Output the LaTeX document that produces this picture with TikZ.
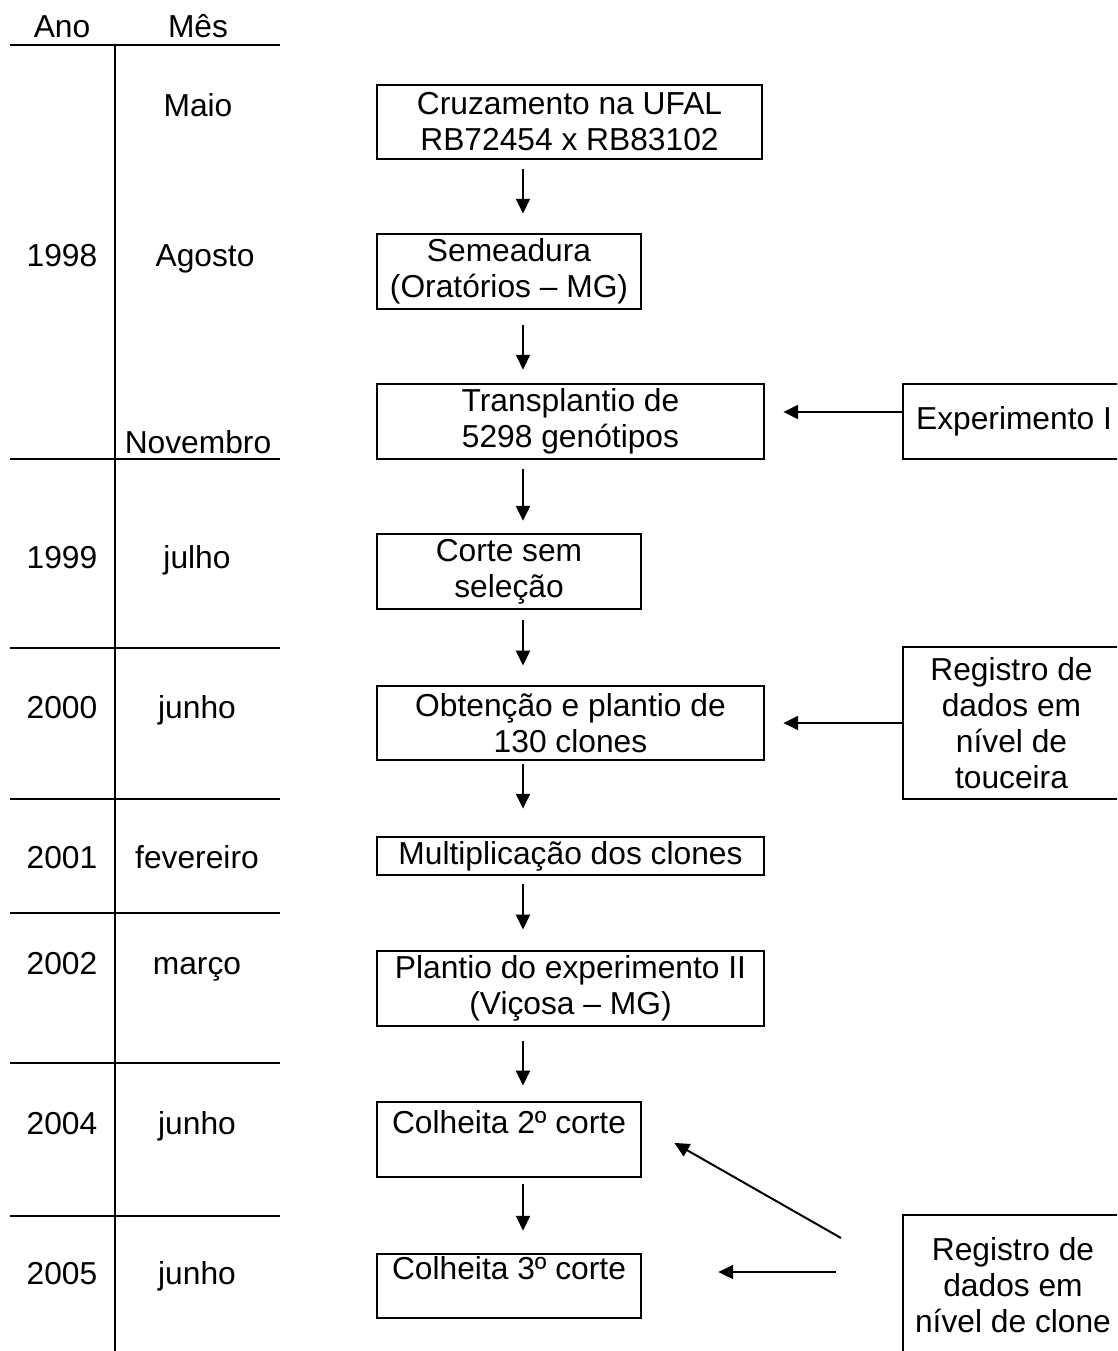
\documentclass[tikz,border=0pt]{standalone}
\usepackage{fontspec}
\setmainfont{Liberation Sans}
\usepackage{tikz}
\usetikzlibrary{arrows.meta,calc}

\begin{document}
\begin{tikzpicture}[
    x=0.378pt, y=-0.378pt,
    box/.style={rectangle, draw, line width=1.05pt, inner sep=0pt, align=center, font=\fontsize{12}{13.6}\selectfont},
    lbl/.style={inner sep=0pt, text height=8.6pt, text depth=0pt, font=\fontsize{12}{13.6}\selectfont},
    arrow/.style={-{Triangle[length=5.6pt,width=5.3pt]}, line width=0.75pt},
    rule/.style={line width=1.05pt}
]
\useasboundingbox (0,0) rectangle (1117,1351);
\clip (0,0) rectangle (1117,1351);

% Timeline header
\node[lbl] (ano) at (62,26) {Ano};
\node[lbl] (mes) at (198,26) {Mês};
\draw[rule] (10,45) -- (280,45);
\draw[rule] (115,45) -- (115,1360);

% Timeline rows
\foreach \yy in {459,648,799,913,1063,1216}
    \draw[rule] (10,\yy) -- (280,\yy);

\node[lbl] (m1) at (198,105) {Maio};
\node[lbl] (a1) at (62,255) {1998};
\node[lbl] (m2) at (205,255) {Agosto};
\node[lbl] (m3) at (198,442) {Novembro};
\node[lbl] (a2) at (62,557) {1999};
\node[lbl] (m4) at (197,557) {julho};
\node[lbl] (a3) at (62,707) {2000};
\node[lbl] (m5) at (197,707) {junho};
\node[lbl] (a4) at (62,857) {2001};
\node[lbl] (m6) at (197,857) {fevereiro};
\node[lbl] (a5) at (62,963) {2002};
\node[lbl] (m7) at (197,963) {março};
\node[lbl] (a6) at (62,1123) {2004};
\node[lbl] (m8) at (197,1123) {junho};
\node[lbl] (a7) at (62,1273) {2005};
\node[lbl] (m9) at (197,1273) {junho};

% Main steps
\node[box, minimum width=145.5pt, minimum height=28pt] (cruz) at (569.5,122) {Cruzamento na UFAL\\RB72454 x RB83102};
\node[box, minimum width=99.8pt, minimum height=28.35pt] (seme) at (509,271.5) {Semeadura\\(Oratórios – MG)};
\node[box, minimum width=146.3pt, minimum height=28.35pt] (trans) at (570.5,421.5) {Transplantio de\\5298 genótipos};
\node[box, minimum width=99.8pt, minimum height=28.35pt] (corte) at (509,571.5) {Corte sem\\seleção};
\node[box, minimum width=146.3pt, minimum height=28pt] (obt) at (570.5,723) {Obtenção e plantio de\\130 clones};
\node[box, minimum width=146.3pt, minimum height=14.4pt] (multi) at (570.5,856) {Multiplicação dos clones};
\node[box, minimum width=146.3pt, minimum height=28.35pt] (plant) at (570.5,988.5) {Plantio do experimento II\\(Viçosa – MG)};
\node[box, minimum width=99.8pt, minimum height=28.35pt] (colh2) at (509,1139.5) {Colheita 2º corte\\\mbox{}};
\node[box, minimum width=99.8pt, minimum height=24.2pt] (colh3) at (509,1286) {Colheita 3º corte\\\mbox{}};

% Side notes
\node[box, minimum width=83.9pt, minimum height=28.35pt] (exp1) at (1014,421.5) {Experimento I};
\node[box, minimum width=82pt, minimum height=57.5pt] (touc) at (1011.5,723) {Registro de\\dados em\\nível de\\touceira};
\node[box, minimum width=83.2pt, minimum height=52.9pt] (clone) at (1013,1285) {Registro de\\dados em\\nível de clone};

% Arrows
\coordinate (ax) at (523,0);
\draw[arrow, shorten <=3.4pt, shorten >=7.2pt] (cruz.south -| ax) -- (seme.north -| ax);
\draw[arrow, shorten <=5.7pt, shorten >=4.9pt] (seme.south -| ax) -- (trans.north -| ax);
\draw[arrow, shorten <=3.4pt, shorten >=4.5pt] (trans.south -| ax) -- (corte.north -| ax);
\draw[arrow, shorten <=3.8pt, shorten >=7.2pt] (corte.south -| ax) -- (obt.north -| ax);
\draw[arrow, shorten <=1.1pt, shorten >=10.2pt] (obt.south -| ax) -- (multi.north -| ax);
\draw[arrow, shorten <=3pt, shorten >=7.6pt] (multi.south -| ax) -- (plant.north -| ax);
\draw[arrow, shorten <=5.3pt, shorten >=5.7pt] (plant.south -| ax) -- (colh2.north -| ax);
\draw[arrow, shorten <=2.3pt, shorten >=8.3pt] (colh2.south -| ax) -- (colh3.north -| ax);

\draw[arrow, shorten >=6.8pt] ([yshift=3.6pt]exp1.west) -- ([yshift=3.6pt]exp1.west -| trans.east);
\draw[arrow, shorten >=6.8pt] (touc.west) -- (touc.west -| obt.east);

\coordinate (clA) at (841,1238);
\coordinate (clB) at (836,1272);
\draw[arrow] (clA) -- ([shift={(12.1pt,-1.3pt)}]colh2.east);
\draw[arrow, shorten >=28.7pt] (clB) -- (clB -| colh3.east);

\end{tikzpicture}
\end{document}
